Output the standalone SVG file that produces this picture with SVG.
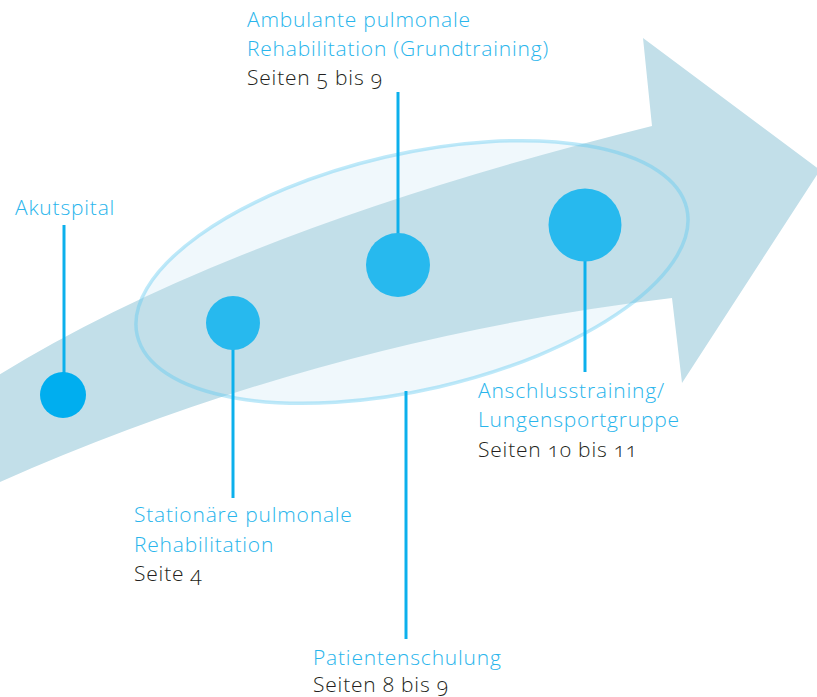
<svg xmlns="http://www.w3.org/2000/svg" width="817" height="697" viewBox="0 0 817 697">
<style>
.lbl{font-family:"Open Sans","Liberation Sans",sans-serif;font-size:21px;fill:#29b5ec;font-weight:300;letter-spacing:0.8px}
.pg{font-family:"Open Sans","Liberation Sans",sans-serif;font-size:21px;fill:#231f20;font-weight:300;letter-spacing:0.8px;font-variant-numeric:oldstyle-nums}
.stem{stroke:#0cb0ec;stroke-width:3;fill:none}
.dot{fill:#27b9ee}
</style>
<rect width="817" height="697" fill="#fff"/>
<g id="ellipse-bg">
<ellipse cx="412" cy="272" rx="282" ry="118" transform="rotate(-13 412 272)" fill="#f0f8fc"/>
</g>
<g id="arrow">
<path d="M-40,400 Q198,239 652,126 L643,38 L820,170 L682,383 L672,298 Q301,342 -40,500 Z" fill="#c2dfe9"/>
</g>
<g id="ellipse-outline">
<ellipse cx="412" cy="272" rx="282" ry="118" transform="rotate(-13 412 272)" fill="none" stroke="#5cc8f0" stroke-opacity="0.4" stroke-width="3.5"/>
</g>
<g id="connectors">
<line class="stem" x1="64" y1="225" x2="64" y2="380"/>
<line class="stem" x1="233" y1="330" x2="233" y2="498"/>
<line class="stem" x1="398" y1="92" x2="398" y2="260"/>
<line class="stem" x1="585" y1="230" x2="585" y2="372"/>
<line class="stem" x1="406" y1="391" x2="406" y2="639"/>
</g>
<g id="akutspital">
<circle cx="63" cy="395" r="23" fill="#00aeef"/>
<text class="lbl" x="15" y="215">Akutspital</text>
</g>
<g id="stationaer">
<circle class="dot" cx="233" cy="323" r="27"/>
<text class="lbl" x="134" y="522">Stationäre pulmonale</text>
<text class="lbl" x="134" y="552">Rehabilitation</text>
<text class="pg" x="134" y="581">Seite 4</text>
</g>
<g id="ambulant">
<circle class="dot" cx="398" cy="265" r="32"/>
<text class="lbl" x="247" y="27">Ambulante pulmonale</text>
<text class="lbl" x="247" y="56">Rehabilitation (Grundtraining)</text>
<text class="pg" x="247" y="85">Seiten 5 bis 9</text>
</g>
<g id="anschluss">
<circle class="dot" cx="585" cy="225" r="36.5"/>
<text class="lbl" x="478" y="398">Anschlusstraining/</text>
<text class="lbl" x="478" y="427">Lungensportgruppe</text>
<text class="pg" x="478" y="457">Seiten 10 bis 11</text>
</g>
<g id="patientenschulung">
<text class="lbl" x="313" y="665">Patientenschulung</text>
<text class="pg" x="313" y="692">Seiten 8 bis 9</text>
</g>
</svg>
